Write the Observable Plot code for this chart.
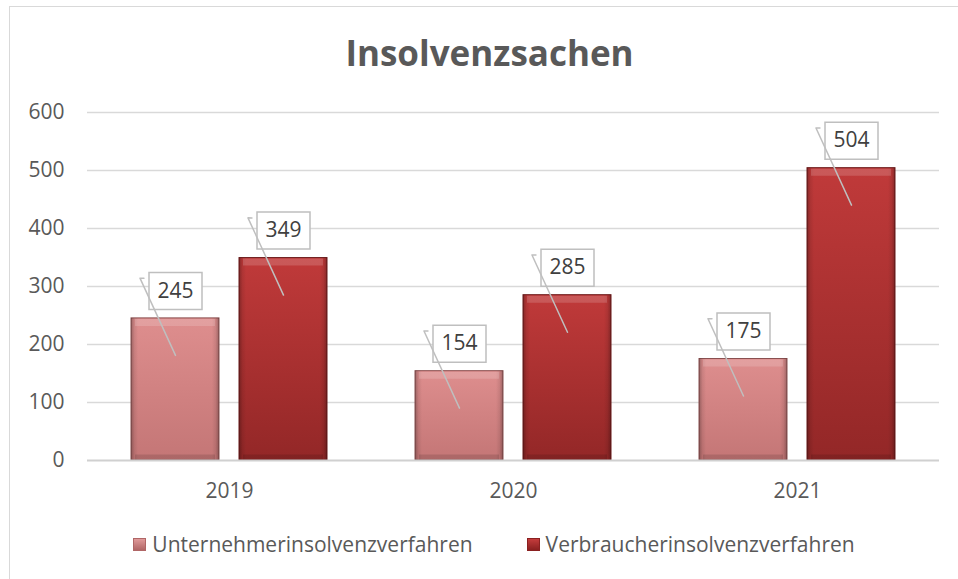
<!DOCTYPE html>
<html>
<head>
<meta charset="utf-8">
<script src="https://cdn.jsdelivr.net/npm/d3@7"></script>
<script src="https://cdn.jsdelivr.net/npm/@observablehq/plot@0.6"></script>
<style>
  html, body { margin: 0; padding: 0; background: #fff; overflow: hidden; }
  #wrap { position: relative; width: 958px; height: 579px; overflow: hidden; font-family: "Open Sans", sans-serif; }
  #border { position: absolute; left: 9px; top: 6px; width: 1100px; height: 1000px; border: 1px solid #d9d9d9; box-sizing: border-box; }
  #title { position: absolute; left: 0; top: 35px; width: 979px; text-align: center; font-size: 35px; line-height: 35px; font-weight: 700; color: #595959; }
  #chart { position: absolute; left: 0; top: 90px; }
  #legend { position: absolute; left: 0; top: 520px; width: 988px; height: 48px; display: flex; justify-content: center; align-items: center; font-size: 21px; color: #595959; }
  .item { display: flex; align-items: center; }
  .item + .item { margin-left: 54px; }
  .sw { width: 13px; height: 13px; margin-right: 6px; box-sizing: border-box; }
</style>
</head>
<body>
<div id="wrap">
  <div id="border"></div>
  <div id="title">Insolvenzsachen</div>
  <div id="chart"></div>
  <div id="legend"></div>
</div>
<script>
const years = ["2019", "2020", "2021"];
const series = ["Unternehmerinsolvenzverfahren", "Verbraucherinsolvenzverfahren"];
const unternehmer = [245, 154, 175];
const verbraucher = [349, 285, 504];
const yTicks = [0, 100, 200, 300, 400, 500, 600];

const rowsU = years.map((year, i) => ({year, series: series[0], value: unternehmer[i]}));
const rowsV = years.map((year, i) => ({year, series: series[1], value: verbraucher[i]}));
const rows = rowsU.concat(rowsV);

const leader = {
  draw(ctx, l) {
    ctx.moveTo(0, 0);
    ctx.lineTo(0, -l);
    ctx.lineTo(3.6, -l + 1.7);
  }
};
const box = {
  draw(ctx) {
    ctx.rect(-26.5, -18.5, 53, 37);
  }
};

const chart = Plot.plot({
  width: 958,
  height: 430,
  marginLeft: 86,
  marginRight: 18,
  marginTop: 22,
  marginBottom: 60,
  style: {fontFamily: "Open Sans, sans-serif", fontSize: "21px", color: "#595959", background: "transparent"},
  fx: {domain: years, padding: 0, axis: "bottom", label: null, tickSize: 0, tickPadding: 23},
  x: {domain: series, axis: null, paddingInner: 0.1835, paddingOuter: 0.398},
  y: {domain: [0, 600], ticks: yTicks, tickSize: 0, tickPadding: 23, label: null},
  marks: [
    Plot.ruleY(yTicks.slice(1), {stroke: "#d9d9d9", strokeWidth: 1.4}),
    Plot.barY(rowsU, {fx: "year", x: "series", y: "value", fill: "url(#gU)", stroke: "#8a5050", strokeWidth: 1}),
    Plot.barY(rowsV, {fx: "year", x: "series", y: "value", fill: "url(#gV)", stroke: "#6a1818", strokeWidth: 1}),
    Plot.barY(rows, {fx: "year", x: "series", y: "value", fill: "url(#gEdge)"}),
    Plot.tickY(rows, {fx: "year", x: "series", y: "value", dy: 4, stroke: "#ffffff", strokeOpacity: 0.16, strokeWidth: 7, insetLeft: 4, insetRight: 4}),
    Plot.tickY(rows, {fx: "year", x: "series", y: 0, dy: -3, stroke: "#000000", strokeOpacity: 0.12, strokeWidth: 6, insetLeft: 4, insetRight: 4}),
    Plot.ruleY([0], {stroke: "#d0d0d0", strokeWidth: 2}),
    Plot.dot(rows, {fx: "year", x: "series", y: "value", dy: -27.5, symbol: box, fill: "#ffffff", stroke: "#bfbfbf", strokeWidth: 1.5}),
    Plot.vector(rows, {fx: "year", x: "series", y: "value", dy: 37, length: 85, rotate: -24.7, anchor: "start", shape: leader, stroke: "#bfbfbf", strokeWidth: 1.5}),
    Plot.text(rows, {fx: "year", x: "series", y: "value", dy: -27.5, text: d => String(d.value), fontSize: 21, fill: "#404040"})
  ]
});

d3.select(chart).insert("defs", ":first-child").html(`
  <linearGradient id="gU" x1="0" y1="0" x2="0" y2="1">
    <stop offset="0" stop-color="#de8e8e"/>
    <stop offset="1" stop-color="#c47676"/>
  </linearGradient>
  <linearGradient id="gV" x1="0" y1="0" x2="0" y2="1">
    <stop offset="0" stop-color="#c03a3a"/>
    <stop offset="1" stop-color="#932727"/>
  </linearGradient>
  <linearGradient id="gEdge" x1="0" y1="0" x2="1" y2="0">
    <stop offset="0" stop-color="#000" stop-opacity="0.28"/>
    <stop offset="0.04" stop-color="#000" stop-opacity="0.08"/>
    <stop offset="0.08" stop-color="#000" stop-opacity="0"/>
    <stop offset="0.92" stop-color="#000" stop-opacity="0"/>
    <stop offset="0.96" stop-color="#000" stop-opacity="0.08"/>
    <stop offset="1" stop-color="#000" stop-opacity="0.28"/>
  </linearGradient>
`);

document.getElementById("chart").appendChild(chart);

const legendColors = [["#e09a9a", "#b06666"], ["#c43c3c", "#8a2020"]];
const legend = document.getElementById("legend");
series.forEach((s, i) => {
  const item = document.createElement("div");
  item.className = "item";
  const sw = document.createElement("div");
  sw.className = "sw";
  sw.style.background = `linear-gradient(${legendColors[i][0]}, ${legendColors[i][1]})`;
  sw.style.border = `1px solid ${legendColors[i][1]}`;
  const label = document.createElement("span");
  label.textContent = s;
  item.appendChild(sw);
  item.appendChild(label);
  legend.appendChild(item);
});
</script>
</body>
</html>
